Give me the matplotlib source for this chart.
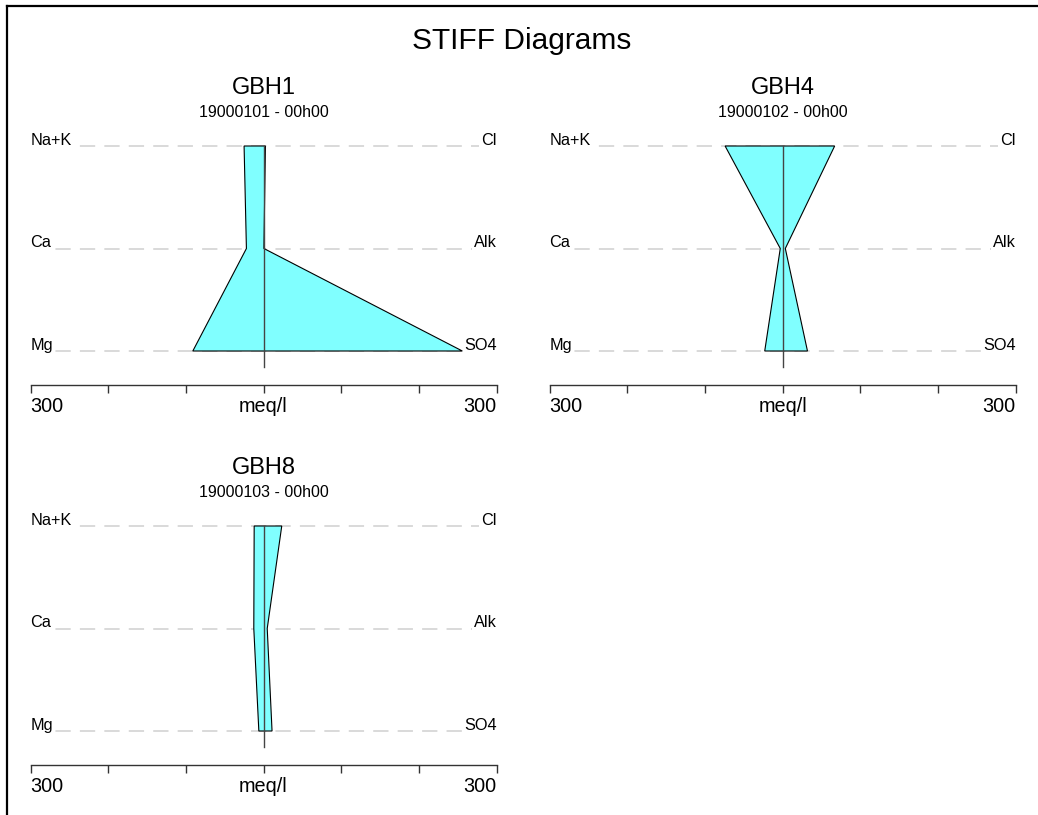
import numpy as np
import matplotlib
matplotlib.use("Agg")
import matplotlib.pyplot as plt
from matplotlib.lines import Line2D

plt.rcParams['font.family'] = ['Liberation Sans', 'DejaVu Sans']

# data (meq/l)
wells = ["GBH1", "GBH4", "GBH8"]
dates = ["19000101 - 00h00", "19000102 - 00h00", "19000103 - 00h00"]
cations = ["Na+K", "Ca", "Mg"]
anions = ["Cl", "Alk", "SO4"]
cat_vals = [[25, 22, 91], [74, 3, 23], [12, 12.5, 6]]
an_vals = [[2.5, 0.5, 256], [67, 3.5, 32], [23.5, 4.8, 11]]
scale_max = 300

W, H = 1038, 815
fig = plt.figure(figsize=(W / 100, H / 100), dpi=100)

# frame (top and left edges)
fig.add_artist(Line2D([7 / W, 7 / W], [0, 1 - 6 / H], color='black', lw=1.6))
fig.add_artist(Line2D([7 / W, 1], [1 - 6 / H, 1 - 6 / H], color='black', lw=1.6))

fig.text(521.5 / W, 1 - 49 / H, "STIFF Diagrams", ha='center', va='baseline', fontsize=21.5)

# panel pixel boxes: left, right, y of Na+K row, y of axis line
panels = [(30.5, 496.5, 146, 385), (549.5, 1015.7, 146, 385), (30.5, 496.5, 526, 765)]
unit = 102.5
ytop = 2.12

for i, (l, r, yrow, yax) in enumerate(panels):
    ybot = 2 - (yax - yrow) / unit
    top_px = yrow - (ytop - 2) * unit
    ax = fig.add_axes([l / W, (H - yax) / H, (r - l) / W, (yax - top_px) / H])
    ax.set_xlim(-scale_max, scale_max)
    ax.set_ylim(ybot, ytop)
    for s in ['top', 'left', 'right']:
        ax.spines[s].set_visible(False)
    ax.spines['bottom'].set_color('#333333')
    ax.spines['bottom'].set_linewidth(1.0)
    ax.set_yticks([])
    ax.set_xticks(np.arange(-300, 301, 100))
    ax.set_xticklabels(["300", "", "", "meq/l", "", "", "300"], fontsize=14.3)
    ax.tick_params(axis='x', length=5.8, width=1.0, color='#333333', pad=2.8)
    labs = ax.get_xticklabels()
    labs[0].set_ha('left')
    labs[-1].set_ha('right')

    rows = [2, 1, 0]
    for y in rows:
        ax.plot([-scale_max, scale_max], [y, y], color='#d0d0d0', lw=1.1,
                dashes=(10, 6), zorder=1)
    for name, y in zip(cations, rows):
        ax.text(-scale_max, y + 0.01, name, ha='left', va='baseline', fontsize=11.7,
                bbox=dict(facecolor='white', edgecolor='none', pad=1.5), zorder=3)
    for name, y in zip(anions, rows):
        ax.text(scale_max, y + 0.01, name, ha='right', va='baseline', fontsize=11.7,
                bbox=dict(facecolor='white', edgecolor='none', pad=1.5), zorder=3)

    xs = [-v for v in cat_vals[i]] + an_vals[i][::-1]
    ys = rows + rows[::-1]
    ax.fill(xs, ys, facecolor='#80ffff', edgecolor='black', lw=0.8, zorder=4)
    ax.plot([0, 0], [2, -0.16], color='#444444', lw=1.0, zorder=5)

    cx = (l + r) / 2
    fig.text(cx / W, 1 - (yrow - 52) / H, wells[i], ha='center', va='baseline', fontsize=17)
    fig.text(cx / W, 1 - (yrow - 29) / H, dates[i], ha='center', va='baseline', fontsize=11.5)

fig.savefig("out.png", dpi=100, facecolor='white')
